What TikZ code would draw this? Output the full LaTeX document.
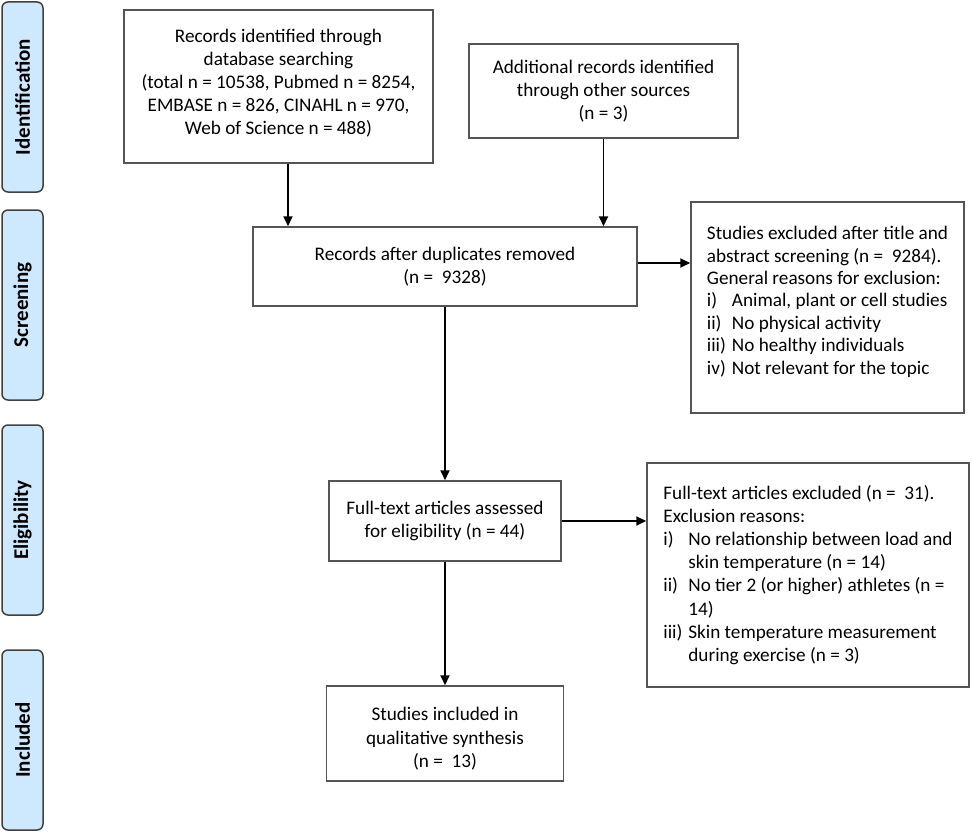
\documentclass[tikz,border=0pt]{standalone}
\usepackage{fontspec}
\setmainfont{Carlito}
\usetikzlibrary{arrows.meta}
\definecolor{phaseblue}{RGB}{206,233,253}
\definecolor{boxgray}{RGB}{85,85,85}
\newcommand{\lbl}[1]{\makebox[12.5pt][l]{#1}}
\tikzset{%
  box/.style     = {shape=rectangle, draw=boxgray, line width=0.75pt,%
                    align=center, inner sep=0pt},%
  listbox/.style = {box, align=left},%
  phase/.style   = {shape=rectangle, rounded corners=3pt, draw=black!75,%
                    line width=0.75pt, fill=phaseblue, minimum height=20.5pt,%
                    inner sep=0pt, rotate=90,%
                    font=\fontsize{10.5}{12}\selectfont\bfseries},%
  flow/.style    = {-{Triangle[length=5pt,width=4.5pt]}, line width=0.9pt}%
}
\begin{document}
\begin{tikzpicture}[x=0.5pt,y=-0.5pt,
	every node/.style = {font=\fontsize{9.6}{11.6}\selectfont}]
	\useasboundingbox (0,0) rectangle (972,834);
	% phases
	\node [phase, minimum width=95pt] (phId) at (22.5,97) {Identification};
	\node [phase, minimum width=95pt] (phScr) at (22.5,305) {Screening};
	\node [phase, minimum width=95pt] (phElig) at (22.5,520) {Eligibility};
	\node [phase, minimum width=90pt] (phIncl) at (22.5,740) {Included};
	% boxes
	\node [box, minimum width=154.5pt, minimum height=76.5pt] (ident) at (278.5,86.5)
		{Records identified through\\ database searching\\ (total n = 10538, Pubmed n = 8254,\\
		 EMBASE n = 826, CINAHL n = 970,\\ Web of Science n = 488)\\[-7pt]\mbox{}};
	\node [box, minimum width=134.5pt, minimum height=47pt] (extra) at (603.5,91)
		{Additional records identified\\ through other sources\\ (n = 3)};
	\node [box, minimum width=192pt, minimum height=39.5pt] (dedup) at (445,266.5)
		{Records after duplicates removed\\ (n = \ 9328)};
	\node [listbox, minimum width=136.5pt, minimum height=105.5pt,
	       font=\fontsize{9.6}{11.2}\selectfont] (exclA) at (827.5,307.5)
		{Studies excluded after title and\\ abstract screening (n = \ 9284).\\
		 General reasons for exclusion:\\
		 \lbl{i)}Animal, plant or cell studies\\
		 \lbl{ii)}No physical activity\\
		 \lbl{iii)}No healthy individuals\\
		 \lbl{iv)}Not relevant for the topic\\[-4pt]\mbox{}};
	\node [box, minimum width=116pt, minimum height=40pt] (full) at (445,521)
		{Full-text articles assessed\\ for eligibility (n = 44)};
	\node [listbox, minimum width=161pt, minimum height=112pt] (exclB) at (808,575)
		{Full-text articles excluded (n = \ 31).\\ Exclusion reasons:\\
		 \lbl{i)}No relationship between load and\\ \lbl{}skin temperature (n = 14)\\
		 \lbl{ii)}No tier 2 (or higher) athletes (n =\\ \lbl{}14)\\
		 \lbl{iii)}Skin temperature measurement\\ \lbl{}during exercise (n = 3)};
	\node [box, minimum width=118.5pt, minimum height=47.5pt] (incl) at (445,733.5)
		{\rule{0pt}{12pt}Studies included in\\ qualitative synthesis\\ (n = \ 13)};
	% arrows
	\draw [flow] ([xshift=4.75pt]ident.south) -- ([xshift=4.75pt]ident.south |- dedup.north);
	\draw [flow] (extra.south) -- (extra.south |- dedup.north);
	\draw [flow] ([yshift=1.75pt]dedup.east) -- ([yshift=1.75pt]dedup.east -| exclA.west);
	\draw [flow] (dedup.south) -- (full.north);
	\draw [flow] (full.east) -- (full.east -| exclB.west);
	\draw [flow] (full.south) -- (incl.north);
\end{tikzpicture}
\end{document}
